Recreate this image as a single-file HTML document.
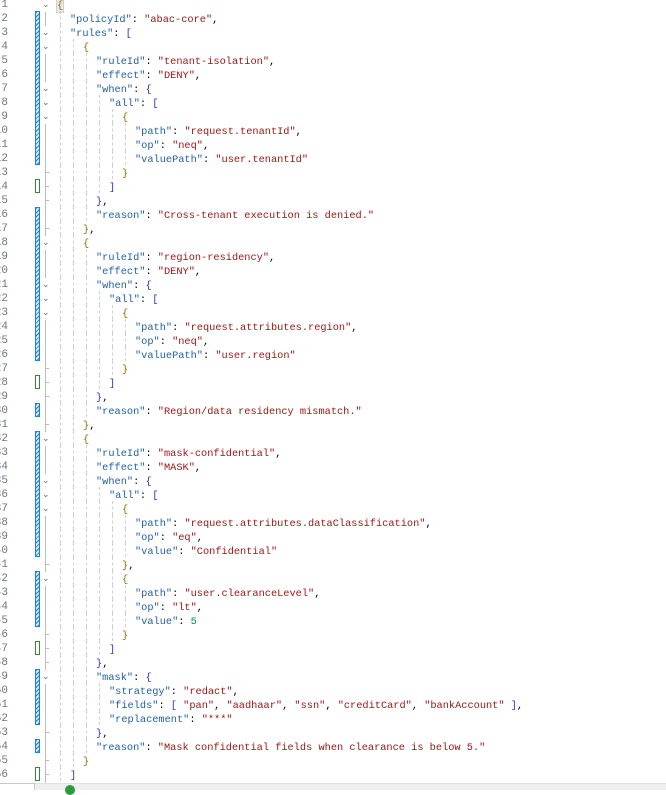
<!DOCTYPE html>
<html><head><meta charset="utf-8"><style>
html,body{margin:0;padding:0;background:#fff;}
body{width:666px;height:789px;position:relative;overflow:hidden;font-family:"Liberation Mono",monospace;font-size:10.3px;}
.ln{position:absolute;left:-20px;width:28px;text-align:right;color:#6e7681;height:14px;line-height:14px;font-size:11px;}
.t{position:absolute;height:14px;line-height:14px;white-space:pre;color:#000;}
.k{color:#1f5faa}.s{color:#a31515}.n{color:#098658}
.b1{color:#9a6e00}.b2{color:#2a3bb0}
.g{position:absolute;width:0;height:14px;border-left:1px dashed #cfcfcf;}
.bar{position:absolute;left:35px;width:3px;border:1px solid #1e7fd6;background:repeating-linear-gradient(135deg,#1e7fd6 0 1px,#cfe6fb 1px 3px);}
.gr{position:absolute;left:35px;width:3px;border:1px solid #2e8b2e;background:#fff;}
.chev{position:absolute;left:42px;width:6px;height:14px;color:#666;font-size:9px;line-height:14px;font-family:"DejaVu Sans",sans-serif;}
.tick{position:absolute;left:45px;width:4px;height:0;border-top:1px solid #bbb;}
</style></head><body>
<div style="position:absolute;left:45px;top:8px;width:1px;height:776px;background:#bdbdbd"></div>
<div id="c"></div>
<div style="position:absolute;left:0;top:783px;width:34px;height:6px;background:#fff;border-top:1px solid #c8c8c8;border-right:1px solid #c8c8c8"></div>
<div style="position:absolute;left:35px;top:783px;width:631px;height:6px;background:#efefef;border-top:1px solid #e2e2e2"></div>
<div style="position:absolute;left:65px;top:785px;width:10px;height:10px;border-radius:50%;background:#2e9a3e"></div>
<script>
(function(){
var L=[
[0,'<span class="b1" style="background:#e8e8e8;outline:1px solid #d0d0d0">{</span>'],
[2,'<span class="k">"policyId"</span>: <span class="s">"abac-core"</span>,'],
[2,'<span class="k">"rules"</span>: <span class="b2">[</span>'],
[4,'<span class="b1">{</span>'],
[6,'<span class="k">"ruleId"</span>: <span class="s">"tenant-isolation"</span>,'],
[6,'<span class="k">"effect"</span>: <span class="s">"DENY"</span>,'],
[6,'<span class="k">"when"</span>: <span class="b2">{</span>'],
[8,'<span class="k">"all"</span>: <span class="b2">[</span>'],
[10,'<span class="b1">{</span>'],
[12,'<span class="k">"path"</span>: <span class="s">"request.tenantId"</span>,'],
[12,'<span class="k">"op"</span>: <span class="s">"neq"</span>,'],
[12,'<span class="k">"valuePath"</span>: <span class="s">"user.tenantId"</span>'],
[10,'<span class="b1">}</span>'],
[8,'<span class="b2">]</span>'],
[6,'<span class="b2">}</span>,'],
[6,'<span class="k">"reason"</span>: <span class="s">"Cross-tenant execution is denied."</span>'],
[4,'<span class="b1">}</span>,'],
[4,'<span class="b1">{</span>'],
[6,'<span class="k">"ruleId"</span>: <span class="s">"region-residency"</span>,'],
[6,'<span class="k">"effect"</span>: <span class="s">"DENY"</span>,'],
[6,'<span class="k">"when"</span>: <span class="b2">{</span>'],
[8,'<span class="k">"all"</span>: <span class="b2">[</span>'],
[10,'<span class="b1">{</span>'],
[12,'<span class="k">"path"</span>: <span class="s">"request.attributes.region"</span>,'],
[12,'<span class="k">"op"</span>: <span class="s">"neq"</span>,'],
[12,'<span class="k">"valuePath"</span>: <span class="s">"user.region"</span>'],
[10,'<span class="b1">}</span>'],
[8,'<span class="b2">]</span>'],
[6,'<span class="b2">}</span>,'],
[6,'<span class="k">"reason"</span>: <span class="s">"Region/data residency mismatch."</span>'],
[4,'<span class="b1">}</span>,'],
[4,'<span class="b1">{</span>'],
[6,'<span class="k">"ruleId"</span>: <span class="s">"mask-confidential"</span>,'],
[6,'<span class="k">"effect"</span>: <span class="s">"MASK"</span>,'],
[6,'<span class="k">"when"</span>: <span class="b2">{</span>'],
[8,'<span class="k">"all"</span>: <span class="b2">[</span>'],
[10,'<span class="b1">{</span>'],
[12,'<span class="k">"path"</span>: <span class="s">"request.attributes.dataClassification"</span>,'],
[12,'<span class="k">"op"</span>: <span class="s">"eq"</span>,'],
[12,'<span class="k">"value"</span>: <span class="s">"Confidential"</span>'],
[10,'<span class="b1">}</span>,'],
[10,'<span class="b1">{</span>'],
[12,'<span class="k">"path"</span>: <span class="s">"user.clearanceLevel"</span>,'],
[12,'<span class="k">"op"</span>: <span class="s">"lt"</span>,'],
[12,'<span class="k">"value"</span>: <span class="n">5</span>'],
[10,'<span class="b1">}</span>'],
[8,'<span class="b2">]</span>'],
[6,'<span class="b2">}</span>,'],
[6,'<span class="k">"mask"</span>: <span class="b2">{</span>'],
[8,'<span class="k">"strategy"</span>: <span class="s">"redact"</span>,'],
[8,'<span class="k">"fields"</span>: <span class="b2">[</span> <span class="s">"pan"</span>, <span class="s">"aadhaar"</span>, <span class="s">"ssn"</span>, <span class="s">"creditCard"</span>, <span class="s">"bankAccount"</span> <span class="b2">]</span>,'],
[8,'<span class="k">"replacement"</span>: <span class="s">"***"</span>'],
[6,'<span class="b2">}</span>,'],
[6,'<span class="k">"reason"</span>: <span class="s">"Mask confidential fields when clearance is below 5."</span>'],
[4,'<span class="b1">}</span>'],
[2,'<span class="b2">]</span>']
];
var h='';
var chev=[1,3,4,7,8,9,18,21,22,23,32,35,36,37,42,49];
var ticks=[13,14,15,17,27,28,29,31,41,46,47,48,53,55,56];
for(var i=0;i<L.length;i++){
 var n=i+1, y=14*n-17, c=L[i][0];
 h+='<div class="ln" style="top:'+(y+1)+'px">'+n+'</div>';
 for(var k=0;k<c/2;k++){h+='<div class="g" style="left:'+(60+13*k)+'px;top:'+y+'px"></div>';}
 h+='<div class="t" style="left:'+(57+6.5*c)+'px;top:'+(y+2)+'px">'+L[i][1]+'</div>';
 if(chev.indexOf(n)>=0)h+='<div class="chev" style="top:'+(y+1)+'px;background:#fff">&#8964;</div>';
 if(ticks.indexOf(n)>=0)h+='<div class="tick" style="top:'+(y+7)+'px"></div>';
}
var bars=[[2,12],[16,26],[30,30],[32,40],[42,45],[49,52],[54,54]];
bars.forEach(function(b){h+='<div class="bar" style="top:'+(14*b[0]-17)+'px;height:'+(14*(b[1]-b[0]+1)-2)+'px"></div>';});
[14,28,47,56].forEach(function(n){h+='<div class="gr" style="top:'+(14*n-17)+'px;height:12px"></div>';});
document.getElementById('c').innerHTML=h;
})();
</script>
</body></html>
